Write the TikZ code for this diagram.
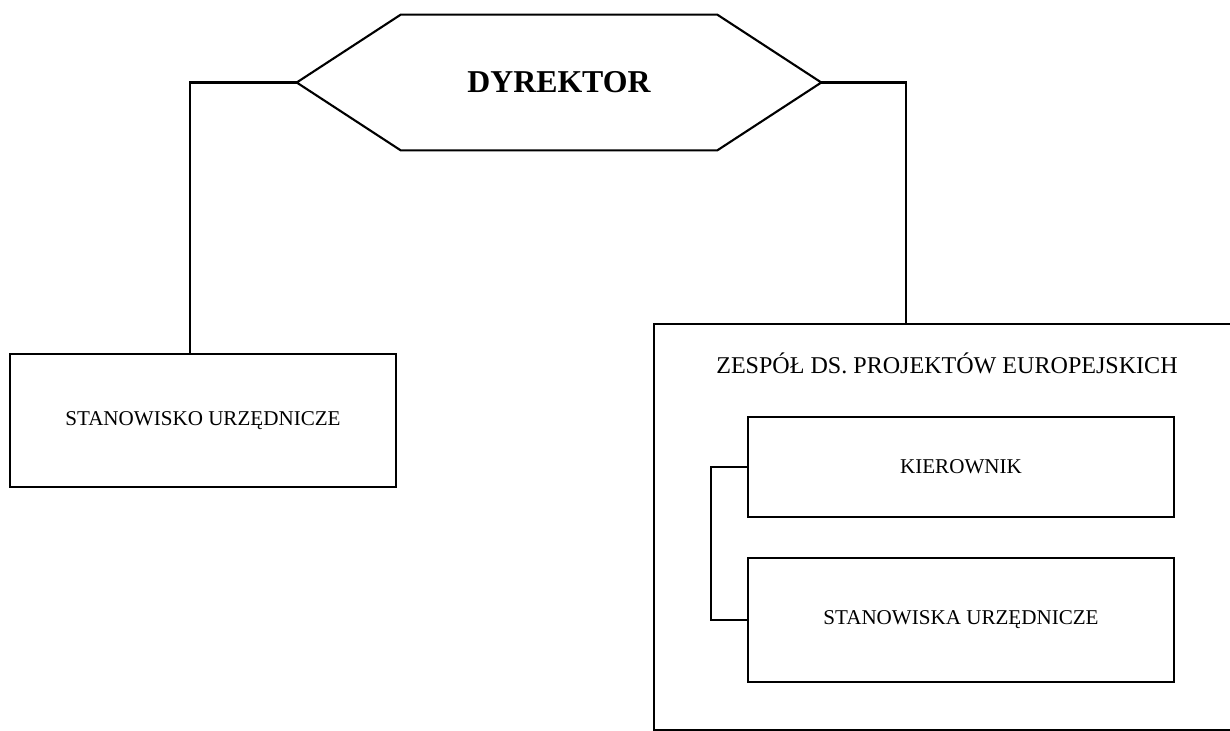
\documentclass[tikz,border=0pt]{standalone}
\usepackage{fontspec}
\setmainfont{Liberation Serif}
\usetikzlibrary{positioning}
\begin{document}
\begin{tikzpicture}[x=0.02cm,y=-0.02cm]
            \tikzstyle{box}=[draw,line width=1.2pt,align=center,font=\fontsize{12}{14}\selectfont]
            \tikzstyle{line}=[line width=1.2pt]
            \useasboundingbox (0,0) rectangle (1230,730);
            \node[minimum width=6.32cm,minimum height=2.7cm,font=\fontsize{18.1}{20}\selectfont\bfseries] (dyr) at (559,82.5) {DYREKTOR};
            \coordinate (dl) at ([xshift=-2.08cm]dyr.west);
            \coordinate (dr) at ([xshift=2.08cm]dyr.east);
            \draw[line] (dyr.north west) -- (dyr.north east) -- (dr) -- (dyr.south east) -- (dyr.south west) -- (dl) -- cycle;

            \node[box,minimum width=7.72cm,minimum height=2.66cm] (stano) at (203,420.5) {STANOWISKO URZĘDNICZE};
            \node[box,minimum width=11.74cm,minimum height=8.12cm,anchor=north west] (zespol) at (653,323) {};
            \node[font=\fontsize{13.7}{16}\selectfont,anchor=base] (tytul) at (947,373) {ZESPÓŁ DS. PROJEKTÓW EUROPEJSKICH};
            \node[box,minimum width=8.52cm,minimum height=2cm] (kier) at (961,467) {KIEROWNIK};
            \node[box,minimum width=8.52cm,minimum height=2.48cm] (stanw) [below=0.78cm of kier] {STANOWISKA URZĘDNICZE};

            \draw[line] (dl) -| ([xshift=-0.26cm]stano.north);
            \draw[line] (dr) -| ([xshift=-0.83cm]zespol.north);
            \draw[line] (kier.west) -- ++(-36,0) |- (stanw.west);
        \end{tikzpicture}
\end{document}
